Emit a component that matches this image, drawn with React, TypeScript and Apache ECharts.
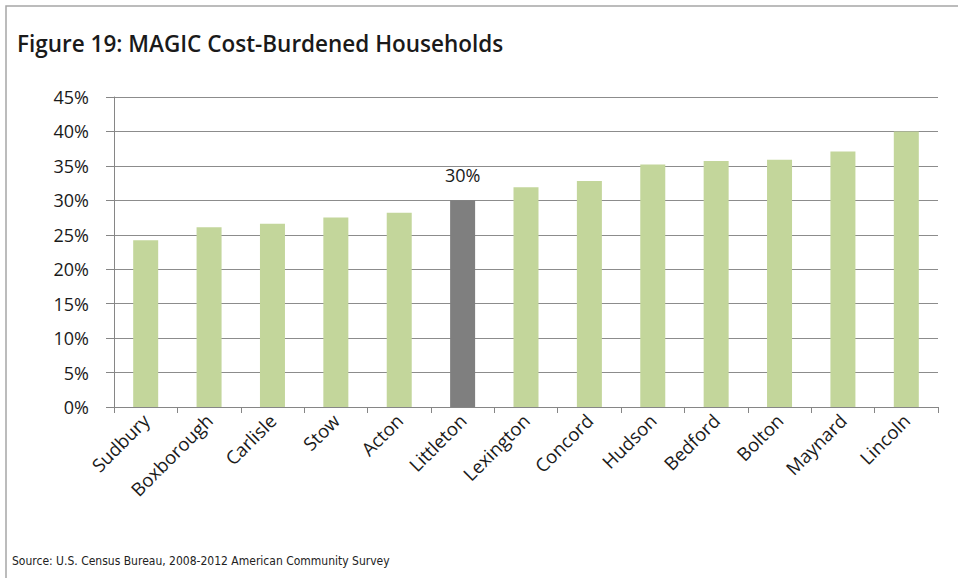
import React, { useEffect, useRef } from "react";
import * as echarts from "echarts";

const towns = ["Sudbury", "Boxborough", "Carlisle", "Stow", "Acton", "Littleton", "Lexington", "Concord", "Hudson", "Bedford", "Bolton", "Maynard", "Lincoln"];
const shares = [24.2, 26.1, 26.6, 27.5, 28.2, 30.0, 31.9, 32.8, 35.2, 35.7, 35.9, 37.1, 40.0];
const highlightTown = "Littleton";
const yTicks = [0, 5, 10, 15, 20, 25, 30, 35, 40, 45];

export default function App() {
  const ref = useRef<HTMLDivElement>(null);
  useEffect(() => {
    document.body.style.margin = "0";
    const chart = echarts.init(ref.current!, null, { renderer: "svg" });
    chart.setOption({
      animation: false,
      backgroundColor: "#ffffff",
      graphic: [
        {
          type: "rect",
          shape: { x: 6, y: 6, width: 1000, height: 1000 },
          style: { fill: "none", stroke: "#a6a6a6", lineWidth: 1.5 },
          silent: true,
        },
        {
          type: "text",
          left: 17,
          top: 32,
          style: {
            text: "Figure 19: MAGIC Cost-Burdened Households",
            font: "600 22.5px 'Open Sans'",
            fill: "#1a1a1a",
          },
        },
        {
          type: "text",
          left: 12,
          top: 555,
          style: {
            text: "Source: U.S. Census Bureau, 2008-2012 American Community Survey",
            font: "12px 'Liberation Sans Narrow', 'DejaVu Sans Condensed', Roboto, sans-serif",
            fill: "#222",
          },
        },
      ],
      grid: { left: 114, right: 20, top: 97, bottom: 171 },
      xAxis: {
        type: "category",
        data: towns,
        axisLine: { show: true, lineStyle: { color: "#868686", width: 1 } },
        axisTick: { show: true, length: 6, alignWithLabel: false, lineStyle: { color: "#868686" } },
        axisLabel: {
          rotate: 45,
          interval: 0,
          margin: 10,
          fontFamily: "Open Sans",
          fontSize: 18.5,
          color: "#1a1a1a",
        },
      },
      yAxis: {
        type: "value",
        min: 0,
        max: 45,
        interval: 5,
        axisLine: { show: true, lineStyle: { color: "#868686", width: 1 } },
        axisTick: { show: true, length: 8, lineStyle: { color: "#868686" } },
        splitLine: { show: true, lineStyle: { color: "#8c8c8c", width: 1 } },
        axisLabel: {
          formatter: (v: number) => (yTicks.includes(v) ? `${v}%` : ""),
          margin: 25,
          fontFamily: "Open Sans",
          fontSize: 18,
          color: "#1a1a1a",
        },
      },
      series: [
        {
          type: "bar",
          barWidth: 25,
          data: towns.map((t, i) =>
            t === highlightTown
              ? {
                  value: shares[i],
                  itemStyle: { color: "#7f7f7f" },
                  label: {
                    show: true,
                    position: "top",
                    distance: 16,
                    formatter: (p: any) => `${Math.round(p.value)}%`,
                    fontFamily: "Open Sans",
                    fontSize: 18,
                    color: "#1a1a1a",
                  },
                }
              : { value: shares[i], itemStyle: { color: "#c3d69b" } }
          ),
        },
      ],
    });
    return () => chart.dispose();
  }, []);
  return <div ref={ref} style={{ width: 958, height: 578 }} />;
}
